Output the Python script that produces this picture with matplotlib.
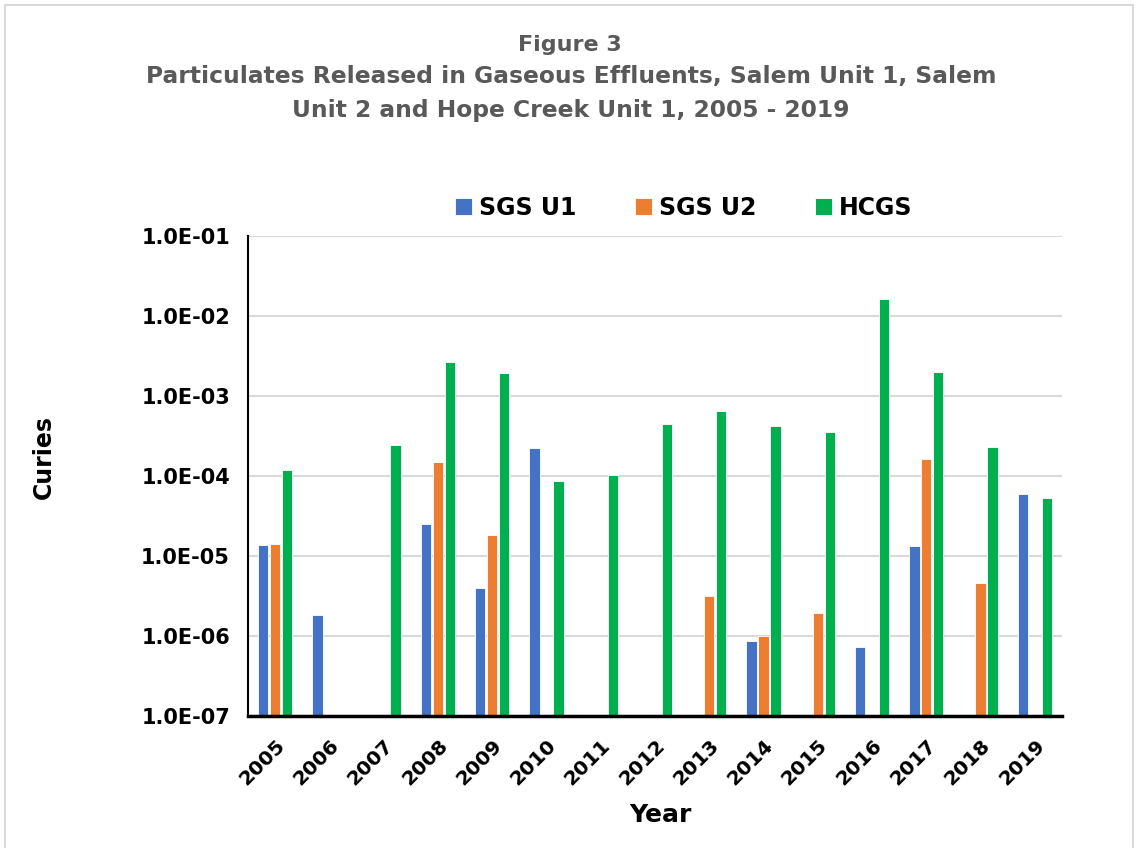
import matplotlib
matplotlib.use("Agg")
import matplotlib.pyplot as plt
import numpy as np
from matplotlib.patches import Rectangle

years = ["2005", "2006", "2007", "2008", "2009", "2010", "2011", "2012",
         "2013", "2014", "2015", "2016", "2017", "2018", "2019"]
sgs_u1 = [1.38e-5, 1.83e-6, None, 2.5e-5, 4.0e-6, 2.24e-4, None, None,
          None, 8.7e-7, None, 7.3e-7, 1.33e-5, None, 5.96e-5]
sgs_u2 = [1.4e-5, None, None, 1.5e-4, 1.83e-5, None, None, None,
          3.16e-6, 1.0e-6, 1.94e-6, None, 1.63e-4, 4.6e-6, None]
hcgs = [1.19e-4, None, 2.45e-4, 2.66e-3, 1.94e-3, 8.7e-5, 1.03e-4, 4.47e-4,
        6.5e-4, 4.2e-4, 3.55e-4, 1.63e-2, 2.0e-3, 2.3e-4, 5.3e-5]
series_names = ["SGS U1", "SGS U2", "HCGS"]
colors = ["#4472C4", "#ED7D31", "#00B050"]
ytick_vals = [1e-7, 1e-6, 1e-5, 1e-4, 1e-3, 1e-2, 1e-1]
ytick_labels = ["1.0E-07", "1.0E-06", "1.0E-05", "1.0E-04", "1.0E-03", "1.0E-02", "1.0E-01"]

plt.rcParams['font.family'] = ['DejaVu Sans']
fig = plt.figure(figsize=(11.36, 8.48), dpi=100)
ax = fig.add_axes([248/1136, 1 - 716/848, (1062-248)/1136, (716-236)/848])

x = np.arange(len(years))
w = 0.19
offs = [-0.22, 0, 0.22]
for data, off, c, name in zip([sgs_u1, sgs_u2, hcgs], offs, colors, series_names):
    xs = [xi + off for xi, v in zip(x, data) if v is not None]
    vs = [v for v in data if v is not None]
    ax.bar(xs, [v - 1e-7 for v in vs], bottom=1e-7, width=w, color=c,
           edgecolor="white", linewidth=0.6, label=name, zorder=3)

ax.set_yscale("log")
ax.set_ylim(1e-7, 1e-1)
ax.set_xlim(-0.5, len(years) - 0.5)
ax.set_yticks(ytick_vals)
ax.set_yticklabels(ytick_labels, fontsize=15, fontweight="bold")
ax.yaxis.set_minor_locator(matplotlib.ticker.NullLocator())
ax.set_xticks(x)
ax.set_xticklabels(years, rotation=45, ha="right", rotation_mode="anchor",
                   fontsize=14.5, fontweight="bold")
ax.tick_params(axis="y", length=0, pad=13)
ax.tick_params(axis="x", length=0, pad=14)
ax.grid(axis="y", color="#d9d9d9", linewidth=1.5, zorder=0)
for s in ["top", "right"]:
    ax.spines[s].set_visible(False)
ax.spines["left"].set_linewidth(1.5)
ax.spines["bottom"].set_linewidth(2.5)
ax.spines["bottom"].set_zorder(4)

fig.text(44/1136, 1 - 457/848, "Curies", rotation=90, ha="center", va="center",
         fontsize=17, fontweight="bold")
fig.text(660/1136, 1 - 815/848, "Year", ha="center", va="center",
         fontsize=18, fontweight="bold")

leg = fig.legend(loc="center", bbox_to_anchor=(684/1136, 1 - 208/848), ncol=3,
                 frameon=False, prop={"size": 17, "weight": "bold"},
                 handlelength=0.7, handleheight=0.7, handletextpad=0.3,
                 columnspacing=2.5)

title_color = "#595959"
fig.text(570/1136, 1 - 45/848, "Figure 3", ha="center", va="center",
         fontsize=16, fontweight="bold", color=title_color)
fig.text(571/1136, 1 - 77/848, "Particulates Released in Gaseous Effluents, Salem Unit 1, Salem",
         ha="center", va="center", fontsize=16.8, fontweight="bold", color=title_color)
fig.text(571/1136, 1 - 110/848, "Unit 2 and Hope Creek Unit 1, 2005 - 2019",
         ha="center", va="center", fontsize=16.8, fontweight="bold", color=title_color)

fig.patches.append(Rectangle((5/1136, -0.01), (1128)/1136, 1 - 5/848 + 0.01,
                             transform=fig.transFigure, fill=False,
                             edgecolor="#d9d9d9", linewidth=1.5))

fig.savefig("out.png", dpi=100)
